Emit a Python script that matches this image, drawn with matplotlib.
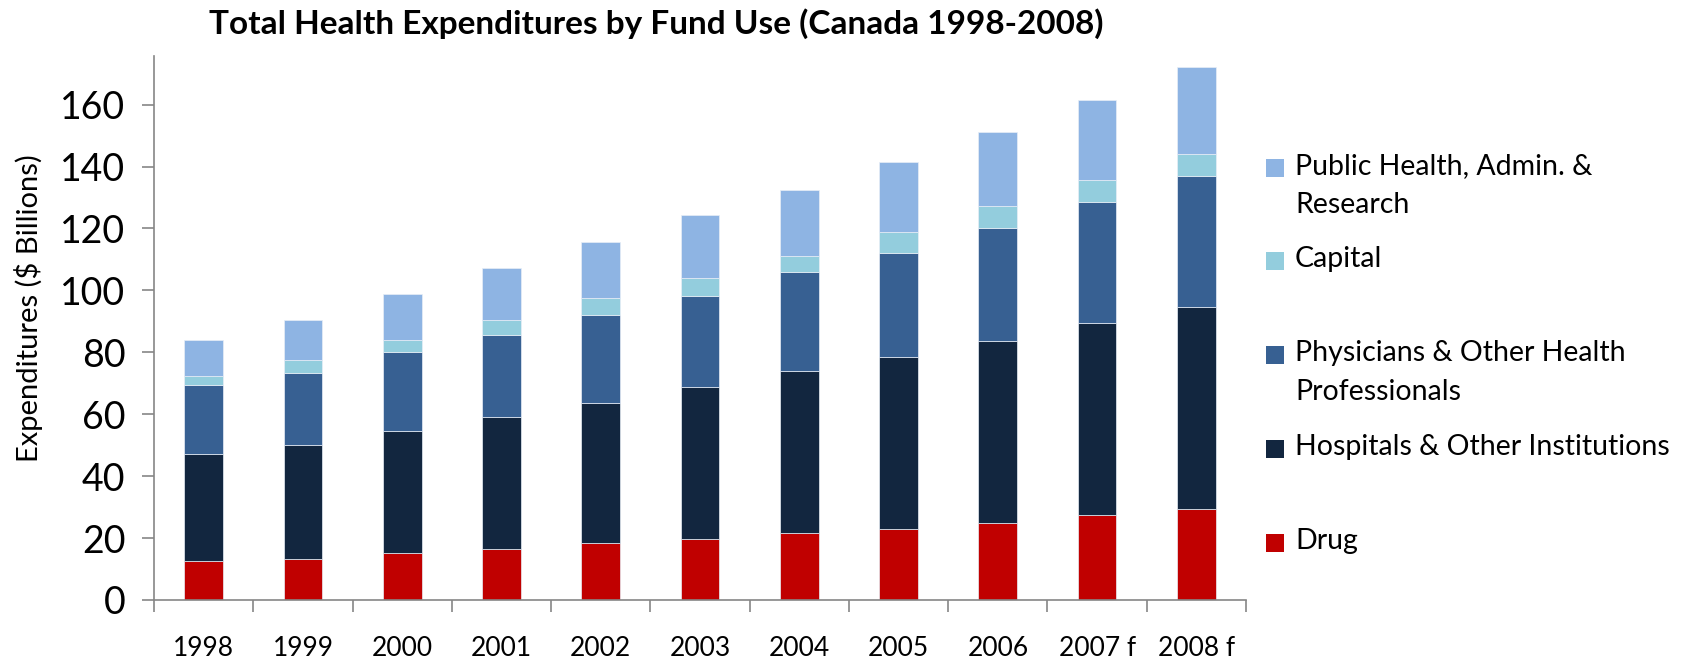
import matplotlib
matplotlib.use("Agg")
import matplotlib.pyplot as plt
from matplotlib.patches import Rectangle
import numpy as np

years = ["1998", "1999", "2000", "2001", "2002", "2003", "2004", "2005", "2006", "2007 f", "2008 f"]
drug = [12.6, 13.1, 15.2, 16.5, 18.3, 19.7, 21.6, 22.9, 24.9, 27.5, 29.3]
hospitals = [34.7, 36.9, 39.3, 42.6, 45.3, 49.1, 52.3, 55.7, 58.8, 61.9, 65.4]
physicians = [22.3, 23.4, 25.5, 26.6, 28.5, 29.4, 32.1, 33.6, 36.4, 39.0, 42.3]
capital = [2.7, 4.0, 3.9, 4.7, 5.3, 5.8, 5.2, 6.7, 7.3, 7.3, 7.1]
public = [11.6, 13.0, 14.9, 16.8, 18.2, 20.2, 21.2, 22.5, 23.8, 25.9, 28.0]

series = [
    ("Drug", drug, "#C00000"),
    ("Hospitals & Other Institutions", hospitals, "#12263F"),
    ("Physicians & Other Health\nProfessionals", physicians, "#376092"),
    ("Capital", capital, "#93CDDD"),
    ("Public Health, Admin. &\nResearch", public, "#8EB4E3"),
]

plt.rcParams['font.family'] = ['Lato', 'DejaVu Sans']

fig = plt.figure(figsize=(16.93, 6.63), dpi=100)
ax = fig.add_axes([154/1693, 1-600/663, (1246-154)/1693, (600-56)/663])

x = np.arange(len(years))
bottom = np.zeros(len(years))
for name, vals, col in series:
    v = np.array(vals)
    ax.bar(x, v, width=0.39, bottom=bottom, color=col, edgecolor="#e8eef6", linewidth=0.5)
    bottom += v

ax.set_xlim(-0.5, len(years)-0.5)
ax.set_ylim(0, 175.7)
ax.set_yticks(np.arange(0, 161, 20))
ax.tick_params(axis='y', labelsize=27, length=8.5, width=1.2, color="#868686", pad=12)
ax.set_xticks(x)
ax.set_xticklabels(years)
ax.tick_params(axis='x', which='major', length=0, labelsize=19, pad=26)
ax.set_xticks(np.arange(-0.5, len(years), 1.0), minor=True)
ax.tick_params(axis='x', which='minor', length=8.5, width=1.2, color="#868686")
for s in ["top", "right"]:
    ax.spines[s].set_visible(False)
for s in ["left", "bottom"]:
    ax.spines[s].set_color("#868686")
    ax.spines[s].set_linewidth(1.2)

fig.text(29/1693, 1-308/663, "Expenditures ($ Billions)", rotation=90,
         ha="center", va="center", fontsize=21)
fig.text(656/1693, 1-24/663, "Total Health Expenditures by Fund Use (Canada 1998-2008)",
         ha="center", va="center", fontsize=24, fontweight="bold")

# legend (manual, Excel-like spacing)
leg_order = [4, 3, 2, 1, 0]
leg_y = [168, 261, 355, 449, 543]
for idx, yc in zip(leg_order, leg_y):
    name, _, col = series[idx]
    fig.patches.append(Rectangle((1266/1693, 1-(yc+9)/663), 18/1693, 18/663,
                                 transform=fig.transFigure, facecolor=col, edgecolor="none"))
    fig.text(1295/1693, 1-(yc-15)/663, name, ha="left", va="top", fontsize=20.5,
             linespacing=1.6)

fig.savefig("out.png", dpi=100)
